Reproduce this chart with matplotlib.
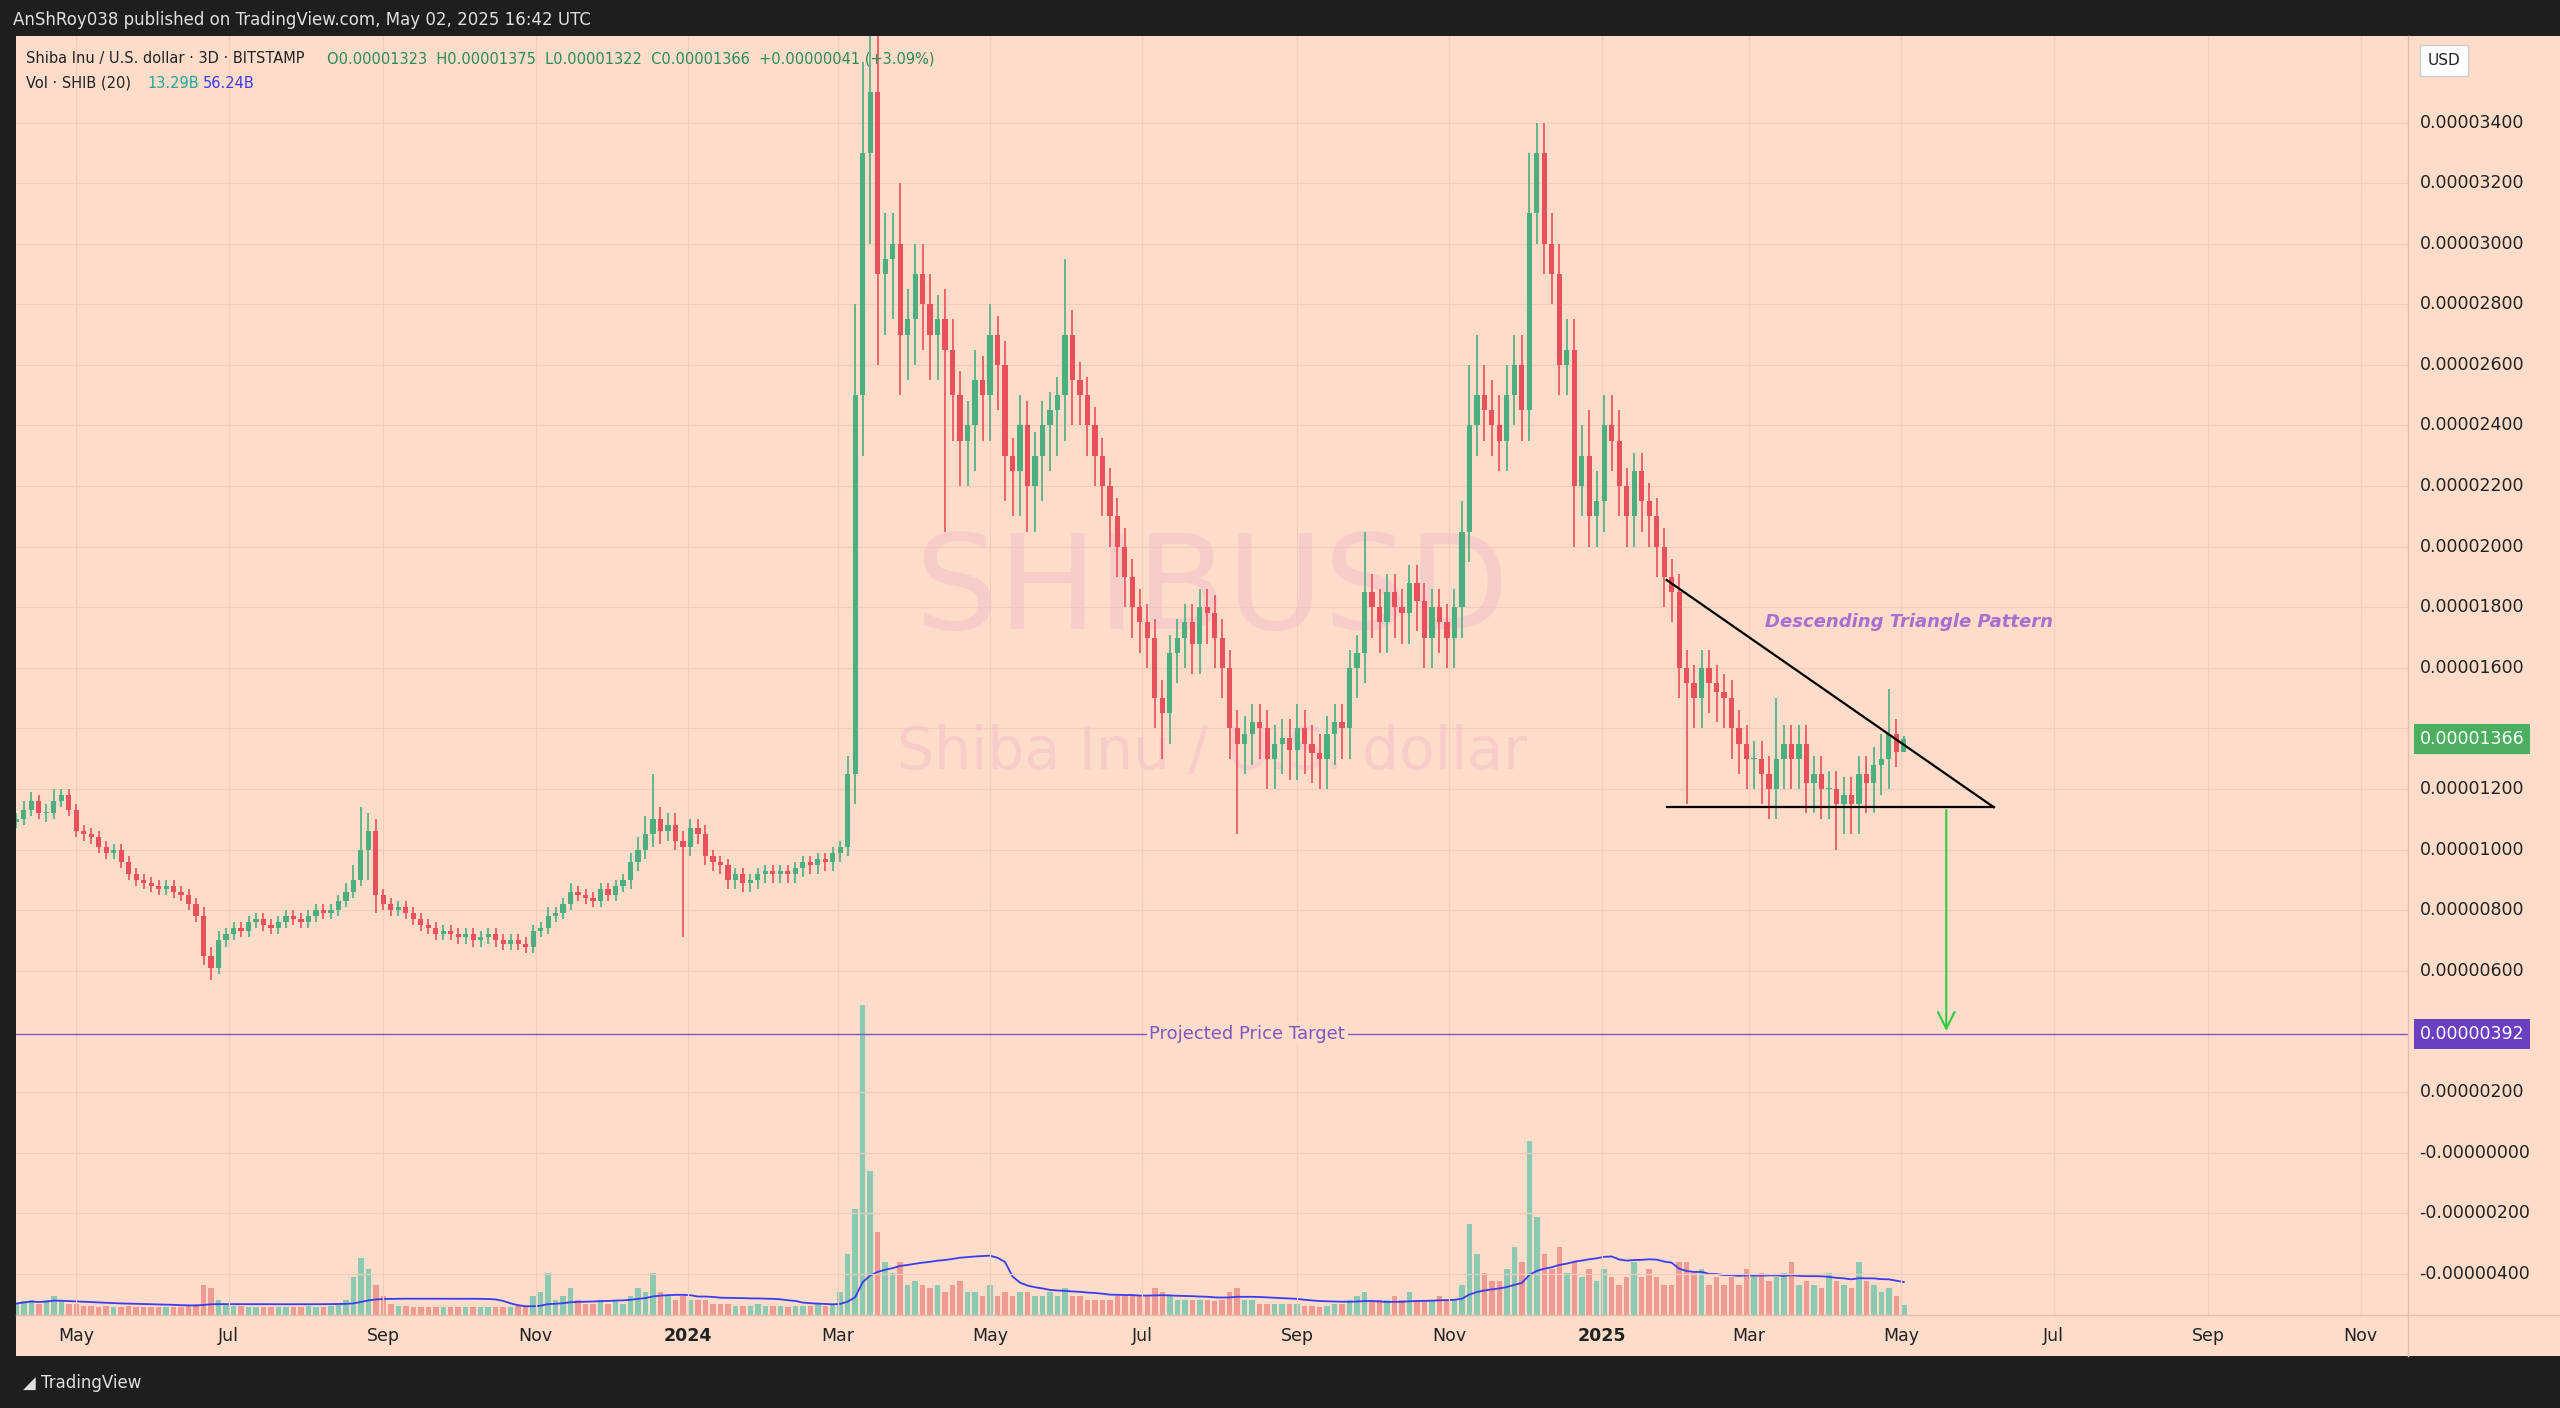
import matplotlib
matplotlib.use("Agg")
import matplotlib.pyplot as plt
import matplotlib.dates as mdates
import numpy as np
import pandas as pd

# ---- data (prices in units of 1e-8 USD) ----
close = [
 1100,1130,1160,1120,
 1120,1160,1180,1130,1060,1050,1040,1010,
 990,1000,960,920,900,890,880,870,880,860,
 850,820,780,650,610,700,720,740,730,760,
 770,750,740,760,780,770,760,780,800,790,
 800,830,860,900,1000,1060,850,820,800,810,
 790,770,750,740,720,730,720,710,720,700,
 710,720,700,690,700,690,680,730,740,780,
 790,820,860,850,840,830,870,850,880,900,
 960,1000,1050,1100,1060,1080,1030,1010,1070,1050,
 980,960,950,900,920,890,900,920,930,920,
 930,920,940,960,950,970,960,990,1010,1250,
 2500,3300,3500,2900,2950,3000,2700,2750,2900,2800,
 2700,2750,2650,2500,2350,2400,2550,2500,2700,2600,
 2300,2250,2400,2200,2300,2400,2450,2500,2700,2550,
 2500,2400,2300,2200,2100,2000,1900,1800,1750,1700,
 1500,1450,1650,1700,1750,1680,1800,1780,1700,1600,
 1400,1350,1380,1420,1400,1300,1350,1370,1330,1400,
 1350,1320,1300,1380,1420,1400,1600,1650,1850,1800,
 1750,1850,1800,1780,1880,1820,1700,1800,1750,1700,
 1800,2050,2400,2500,2450,2400,2350,2500,2600,2450,
 3100,3300,3000,2900,2600,2650,2200,2300,2100,2150,
 2400,2350,2200,2100,2250,2150,2100,2000,1900,1850,
 1600,1550,1500,1600,1550,1520,1500,1400,1350,1300,
 1300,1250,1200,1300,1350,1300,1350,1220,1250,1200,
 1200,1150,1180,1150,1250,1220,1280,1300,1380,1323,
 1366]
open_ = [1090] + close[:-1]
up_wick = [
 20,30,30,20,
 30,40,20,20,20,20,20,20,
 20,20,20,20,20,20,20,20,20,20,
 20,20,20,30,30,30,20,20,20,20,
 20,20,20,20,20,20,20,20,20,20,
 20,20,30,50,140,60,40,20,20,20,
 20,20,20,20,20,20,20,20,20,20,
 20,20,20,20,20,20,20,20,20,30,
 20,20,30,20,20,20,20,20,20,20,
 30,40,60,150,40,40,40,30,30,30,
 30,20,20,20,20,20,20,20,20,20,
 20,20,20,20,20,20,20,20,20,60,
 300,300,400,200,150,100,200,100,100,100,
 100,80,100,100,80,80,100,80,100,60,
 80,60,100,80,80,80,60,60,250,80,
 60,60,60,60,60,60,60,60,60,60,
 60,60,60,60,60,60,60,60,60,60,
 60,60,60,60,60,60,60,60,60,80,
 60,60,60,60,60,60,60,60,200,60,
 60,60,60,60,60,60,60,60,60,60,
 60,100,200,200,100,100,100,100,100,100,
 200,100,100,100,100,100,100,100,150,100,
 100,100,100,60,60,60,60,60,60,60,
 60,60,60,60,60,60,60,60,60,60,
 60,60,60,200,60,60,60,60,60,60,
 60,60,60,60,60,60,60,80,150,50,
 9]
lo_wick = [
 20,20,20,20,
 30,20,20,20,20,20,20,20,
 20,20,20,20,20,20,20,20,20,20,
 20,20,20,30,40,20,20,20,20,20,
 20,20,20,20,20,20,20,20,20,20,
 20,20,20,20,20,100,60,20,20,20,
 20,20,20,20,20,20,20,20,20,20,
 20,20,20,20,20,20,20,20,20,20,
 20,20,20,20,20,20,20,20,20,20,
 30,30,30,40,40,30,30,300,30,30,
 30,30,30,30,30,30,30,30,30,30,
 30,30,30,30,30,30,30,30,30,30,
 100,200,300,300,200,200,200,150,150,150,
 150,150,600,150,150,150,150,150,150,150,
 150,150,150,150,150,150,150,150,150,150,
 100,100,100,100,100,100,100,100,100,100,
 100,150,100,100,100,100,100,100,100,100,
 100,300,100,100,100,100,100,100,100,100,
 100,100,100,100,100,100,100,100,100,100,
 100,100,100,100,100,100,100,100,100,100,
 100,100,100,100,100,100,100,100,100,100,
 100,100,100,100,100,100,200,100,100,100,
 100,100,100,100,100,100,100,100,100,100,
 100,400,100,100,100,100,100,100,100,100,
 100,100,100,100,100,100,100,100,100,100,
 100,150,100,100,100,100,100,100,100,50,
 1]
volume = [
 15,18,20,15,
 20,25,18,15,15,12,12,10,
 12,10,10,12,10,10,10,10,10,10,
 10,12,15,40,35,20,15,12,12,10,
 10,10,10,10,10,10,10,12,10,10,
 12,15,20,50,75,60,40,25,15,12,
 12,10,10,10,10,10,10,10,10,10,
 10,10,10,10,10,12,12,25,30,55,
 20,25,35,20,15,15,20,15,20,15,
 25,35,30,55,30,25,20,25,20,20,
 20,15,15,15,12,12,12,15,12,12,
 12,10,12,12,12,15,12,15,30,80,
 140,410,190,110,70,55,70,40,45,40,
 35,40,30,40,45,30,30,25,40,25,
 30,25,30,30,25,25,30,25,35,25,
 25,20,20,20,20,25,25,25,25,25,
 35,30,25,20,20,20,20,20,18,20,
 30,35,20,20,15,15,15,15,15,15,
 12,12,10,12,15,15,20,25,30,20,
 20,20,25,20,30,20,20,20,25,20,
 20,40,120,80,55,45,45,60,90,70,
 230,130,80,60,90,55,70,50,60,45,
 60,50,40,50,70,50,60,50,40,40,
 70,70,55,60,40,50,40,50,40,60,
 50,55,45,50,55,70,40,45,40,35,
 55,45,40,35,70,45,40,30,35,25,
 13]
vol_ma = pd.Series(volume).rolling(20, min_periods=1).mean().values

grid_ticks = [-400, -200, 0, 200, 600, 800, 1000, 1200, 1400, 1600, 1800, 2000, 2200,
              2400, 2600, 2800, 3000, 3200, 3400]
tick_text = {-400: "-0.00000400", -200: "-0.00000200", 0: "-0.00000000", 200: "0.00000200"}
x_tick_dates = ["2023-05-01", "2023-07-01", "2023-09-01", "2023-11-01", "2024-01-01",
                "2024-03-01", "2024-05-01", "2024-07-01", "2024-09-01", "2024-11-01",
                "2025-01-01", "2025-03-01", "2025-05-01", "2025-07-01", "2025-09-01",
                "2025-11-01"]
x_tick_labels = ["May", "Jul", "Sep", "Nov", "2024", "Mar", "May", "Jul", "Sep", "Nov",
                 "2025", "Mar", "May", "Jul", "Sep", "Nov"]
last_price = 1366
target_price = 392
support = 1140
tri_start = ("2025-01-27", 1890)
tri_end = ("2025-06-07", 1140)
arrow_date = "2025-05-19"

# ---- layout ----
W, H = 1568, 862
BG = "#fddcca"
DARK = "#1e1e1e"
GREEN = "#4caf80"
RED = "#e8505b"
fig = plt.figure(figsize=(25.6, 14.08), dpi=100, facecolor=DARK)

def rect(x0, y0, x1, y1):
    return [x0 / W, 1 - y1 / H, (x1 - x0) / W, (y1 - y0) / H]

bgax = fig.add_axes(rect(10, 22, 1568, 830))
bgax.set_facecolor(BG); bgax.set_xticks([]); bgax.set_yticks([])
for s in bgax.spines.values(): s.set_visible(False)

ax = fig.add_axes(rect(10, 22, 1475, 805))
ax.set_facecolor(BG)
dates = pd.date_range(end="2025-05-02", periods=len(close), freq="3D")
xd = mdates.date2num(dates)
ymin, ymax = -536, 3686
ax.set_ylim(ymin, ymax)
x0 = mdates.date2num(pd.Timestamp("2023-04-07")); x1 = mdates.date2num(pd.Timestamp("2025-11-20"))
ax.set_xlim(x0, x1)
for g in grid_ticks:
    ax.axhline(g, color="#f3cdbb", lw=0.9, zorder=0)
for d in x_tick_dates:
    ax.axvline(mdates.date2num(pd.Timestamp(d)), color="#f3cdbb", lw=0.9, zorder=0)

ax.text(0.5, 0.565, "SHIBUSD", transform=ax.transAxes, ha="center", va="center",
        fontsize=95, color="#f2c4c8", alpha=0.6, zorder=0)
ax.text(0.5, 0.44, "Shiba Inu / U.S. dollar", transform=ax.transAxes, ha="center",
        va="center", fontsize=42, color="#f2c4c8", alpha=0.6, zorder=0)

vax = ax.twinx()
vax.set_ylim(0, 1690)
vcols = ["#8cc9b3" if c >= o else "#f09a94" for o, c in zip(open_, close)]
vax.bar(xd, volume, width=2.2, color=vcols, zorder=1)
vax.plot(xd, vol_ma, color="#3b3bf0", lw=1.3, zorder=2)
vax.axis("off")
ax.set_zorder(vax.get_zorder() + 1); ax.patch.set_visible(False)

for x, o, c, uw, lw_ in zip(xd, open_, close, up_wick, lo_wick):
    col = GREEN if c >= o else RED
    hi = max(o, c) + uw; lo = min(o, c) - lw_
    ax.vlines(x, lo, hi, color=col, lw=1.2, zorder=3)
    ax.bar(x, max(abs(c - o), 4), bottom=min(o, c), width=2.1, color=col, zorder=4)

t0 = mdates.date2num(pd.Timestamp(tri_start[0])); t1 = mdates.date2num(pd.Timestamp(tri_end[0]))
ax.plot([t0, t1], [tri_start[1], tri_end[1]], color="black", lw=1.6, zorder=5)
ax.plot([t0, t1], [support, support], color="black", lw=1.6, zorder=5)
ax.text(mdates.date2num(pd.Timestamp("2025-05-04")), 1750, "Descending Triangle Pattern",
        color="#a86fd0", fontsize=13, style="italic", fontweight="bold", ha="center", va="center")
xa = mdates.date2num(pd.Timestamp(arrow_date))
ax.annotate("", xy=(xa, target_price), xytext=(xa, support),
            arrowprops=dict(arrowstyle="->", color="#2ecc40", lw=1.5, mutation_scale=30), zorder=5)
ax.axhline(target_price, color="#7e57c2", lw=1.0, zorder=2)
ax.text(mdates.date2num(pd.Timestamp("2024-08-12")), target_price, "Projected Price Target",
        color="#7e57c2", fontsize=13, ha="center", va="center",
        bbox=dict(facecolor=BG, edgecolor="none", pad=2), zorder=6)

ax.set_xticks([]); ax.set_yticks([])
for s in ax.spines.values(): s.set_visible(False)

def ypix(v):
    return 22 + (ymax - v) / (ymax - ymin) * 783
for t in grid_ticks:
    if t == 1400:
        continue
    lab = tick_text.get(t, f"{t/1e8:.8f}")
    fig.text(1482 / W, 1 - ypix(t) / H, lab, fontsize=12.5, color="#222", va="center")
for val, fc in [(last_price, "#4caf60"), (target_price, "#6a3fc0")]:
    fig.text(1482 / W, 1 - ypix(val) / H, f"{val/1e8:.8f}", fontsize=12.5, color="white",
             va="center", bbox=dict(facecolor=fc, edgecolor="none", boxstyle="square,pad=0.35"))
fig.text(1487 / W, 1 - 37 / H, "USD", fontsize=11, color="#222", va="center",
         bbox=dict(facecolor="white", edgecolor="#ccc", boxstyle="square,pad=0.5"))
fig.add_artist(plt.Line2D([1475 / W, 1475 / W], [1 - 830 / H, 1 - 22 / H], color="#e0bfae", lw=1))
fig.add_artist(plt.Line2D([10 / W, 1568 / W], [1 - 805 / H, 1 - 805 / H], color="#e0bfae", lw=1))

for d, lab in zip(x_tick_dates, x_tick_labels):
    px = 10 + (mdates.date2num(pd.Timestamp(d)) - x0) / (x1 - x0) * 1465
    fig.text(px / W, 1 - 818 / H, lab, fontsize=12.5, color="#222", ha="center", va="center",
             fontweight="bold" if lab.isdigit() else "normal")

fig.text(8 / W, 1 - 12 / H, "AnShRoy038 published on TradingView.com, May 02, 2025 16:42 UTC",
         fontsize=12, color="#e0e0e0", va="center")
fig.text(16 / W, 1 - 36 / H, "Shiba Inu / U.S. dollar · 3D · BITSTAMP", fontsize=10.5,
         color="#222", va="center")
fig.text(200 / W, 1 - 36 / H, "O0.00001323  H0.00001375  L0.00001322  C0.00001366  +0.00000041 (+3.09%)",
         fontsize=10.5, color="#2e8b57", va="center")
fig.text(16 / W, 1 - 51 / H, "Vol · SHIB (20)", fontsize=10.5, color="#222", va="center")
fig.text(90 / W, 1 - 51 / H, "13.29B", fontsize=10.5, color="#26a69a", va="center")
fig.text(124 / W, 1 - 51 / H, "56.24B", fontsize=10.5, color="#3b3bf0", va="center")
fig.text(14 / W, 1 - 847 / H, "◢ TradingView", fontsize=12, color="#e0e0e0", va="center")

fig.savefig("out.png", dpi=100, facecolor=DARK)
